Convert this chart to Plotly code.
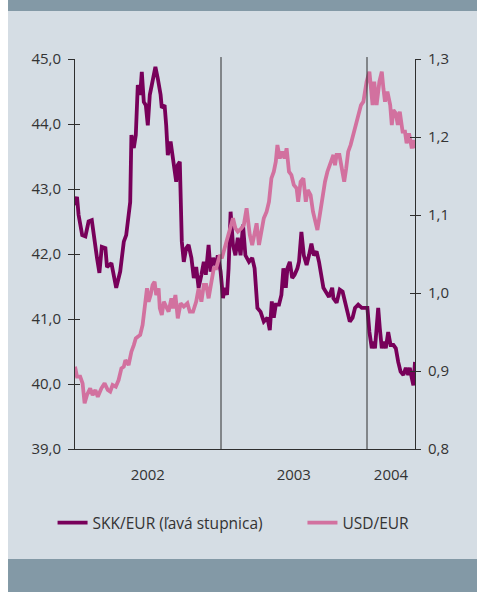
import plotly.graph_objects as go

# ---------------- data ----------------
skk_dates = [
    "2002-01-01", "2002-01-06", "2002-01-10", "2002-01-19", "2002-01-27", "2002-02-04", "2002-02-12",
    "2002-02-17", "2002-02-25", "2002-03-03", "2002-03-09", "2002-03-18", "2002-03-22", "2002-04-02",
    "2002-04-08", "2002-04-14", "2002-04-24", "2002-05-03", "2002-05-09", "2002-05-13", "2002-05-19",
    "2002-05-22", "2002-05-28", "2002-06-02", "2002-06-07", "2002-06-13", "2002-06-17", "2002-06-22",
    "2002-06-27", "2002-07-02", "2002-07-07", "2002-07-12", "2002-07-21", "2002-07-27", "2002-08-03",
    "2002-08-06", "2002-08-13", "2002-08-17", "2002-08-21", "2002-08-28", "2002-09-03", "2002-09-11",
    "2002-09-15", "2002-09-20", "2002-09-25", "2002-09-30", "2002-10-06", "2002-10-12", "2002-10-19",
    "2002-10-25", "2002-10-31", "2002-11-06", "2002-11-13", "2002-11-19", "2002-11-24", "2002-12-01",
    "2002-12-06", "2002-12-12", "2002-12-19", "2002-12-24", "2002-12-31", "2003-01-06", "2003-01-10",
    "2003-01-16", "2003-01-20", "2003-01-25", "2003-01-31", "2003-02-06", "2003-02-12", "2003-02-19",
    "2003-02-25", "2003-03-03", "2003-03-12", "2003-03-20", "2003-03-26", "2003-04-02", "2003-04-10",
    "2003-04-18", "2003-04-27", "2003-05-03", "2003-05-08", "2003-05-13", "2003-05-18", "2003-05-26",
    "2003-06-01", "2003-06-06", "2003-06-12", "2003-06-16", "2003-06-22", "2003-06-28", "2003-07-04",
    "2003-07-11", "2003-07-15", "2003-07-21", "2003-07-27", "2003-08-03", "2003-08-09", "2003-08-15",
    "2003-08-21", "2003-08-28", "2003-09-03", "2003-09-09", "2003-09-14", "2003-09-20", "2003-09-28",
    "2003-10-06", "2003-10-09", "2003-10-17", "2003-10-25", "2003-11-01", "2003-11-07", "2003-11-11",
    "2003-11-19", "2003-11-26", "2003-12-02", "2003-12-10", "2003-12-19", "2003-12-27", "2004-01-02",
    "2004-01-07", "2004-01-13", "2004-01-17", "2004-01-21", "2004-01-25", "2004-01-29", "2004-02-02",
    "2004-02-07", "2004-02-12", "2004-02-17", "2004-02-23", "2004-02-29", "2004-03-07", "2004-03-13",
    "2004-03-19", "2004-03-25", "2004-04-01", "2004-04-07", "2004-04-13", "2004-04-17", "2004-04-22",
    "2004-04-26", "2004-04-30",
]
skk_eur = [
    42.75, 42.88, 42.60, 42.29, 42.27, 42.50, 42.52,
    42.25, 41.94, 41.71, 42.11, 42.09, 41.80, 41.86,
    41.68, 41.48, 41.73, 42.19, 42.29, 42.55, 42.80,
    43.83, 43.63, 43.83, 44.60, 44.45, 44.80, 44.34,
    44.29, 43.98, 44.45, 44.60, 44.88, 44.70, 44.45,
    44.25, 44.29, 43.98, 43.52, 43.73, 43.48, 43.11,
    43.37, 43.42, 42.19, 41.88, 42.09, 42.14, 41.94,
    41.63, 41.80, 41.48, 41.68, 41.88, 41.68, 42.14,
    41.73, 41.94, 41.83, 41.98, 41.73, 41.32, 41.48,
    41.37, 41.78, 42.65, 42.14, 41.98, 42.25, 41.98,
    42.45, 41.98, 41.88, 41.94, 41.78, 41.17, 41.11,
    40.96, 41.02, 40.83, 41.27, 41.02, 41.22, 41.22,
    41.37, 41.78, 41.48, 41.78, 41.88, 41.63, 41.68,
    41.78, 41.88, 42.34, 41.98, 41.83, 41.98, 42.16,
    41.98, 42.04, 41.88, 41.68, 41.48, 41.42, 41.34,
    41.48, 41.32, 41.25, 41.45, 41.42, 41.27, 41.11,
    40.96, 41.02, 41.17, 41.22, 41.17, 41.17, 41.17,
    40.80, 40.55, 40.65, 40.55, 40.86, 41.17, 40.86,
    40.55, 40.65, 40.55, 40.80, 40.60, 40.60, 40.55,
    40.34, 40.19, 40.14, 40.25, 40.14, 40.25, 40.09,
    39.98, 40.34,
]

usd_dates = [
    "2002-01-01", "2002-01-06", "2002-01-14", "2002-01-20", "2002-01-25", "2002-01-31", "2002-02-08",
    "2002-02-14", "2002-02-21", "2002-02-27", "2002-03-08", "2002-03-16", "2002-03-24", "2002-03-30",
    "2002-04-05", "2002-04-13", "2002-04-20", "2002-04-27", "2002-05-03", "2002-05-07", "2002-05-15",
    "2002-05-22", "2002-05-28", "2002-06-02", "2002-06-07", "2002-06-13", "2002-06-19", "2002-06-26",
    "2002-06-30", "2002-07-04", "2002-07-09", "2002-07-14", "2002-07-19", "2002-07-23", "2002-07-29",
    "2002-08-01", "2002-08-06", "2002-08-11", "2002-08-17", "2002-08-23", "2002-08-30", "2002-09-03",
    "2002-09-09", "2002-09-15", "2002-09-22", "2002-09-30", "2002-10-09", "2002-10-15", "2002-10-23",
    "2002-10-31", "2002-11-06", "2002-11-13", "2002-11-19", "2002-11-25", "2002-12-01", "2002-12-08",
    "2002-12-14", "2002-12-20", "2002-12-29", "2003-01-03", "2003-01-10", "2003-01-18", "2003-01-25",
    "2003-01-31", "2003-02-06", "2003-02-12", "2003-02-21", "2003-02-27", "2003-03-06", "2003-03-14",
    "2003-03-20", "2003-03-26", "2003-03-31", "2003-04-06", "2003-04-12", "2003-04-18", "2003-04-25",
    "2003-05-01", "2003-05-07", "2003-05-13", "2003-05-18", "2003-05-22", "2003-05-28", "2003-06-03",
    "2003-06-09", "2003-06-14", "2003-06-20", "2003-06-26", "2003-07-02", "2003-07-09", "2003-07-13",
    "2003-07-19", "2003-07-26", "2003-08-01", "2003-08-06", "2003-08-13", "2003-08-19", "2003-08-24",
    "2003-08-30", "2003-09-05", "2003-09-11", "2003-09-18", "2003-09-24", "2003-09-30", "2003-10-05",
    "2003-10-09", "2003-10-13", "2003-10-17", "2003-10-24", "2003-10-28", "2003-11-01", "2003-11-05",
    "2003-11-10", "2003-11-15", "2003-11-21", "2003-11-28", "2003-12-05", "2003-12-10", "2003-12-17",
    "2003-12-23", "2003-12-27", "2003-12-31", "2004-01-07", "2004-01-11", "2004-01-15", "2004-01-19",
    "2004-01-25", "2004-02-01", "2004-02-07", "2004-02-11", "2004-02-15", "2004-02-21", "2004-02-28",
    "2004-03-03", "2004-03-07", "2004-03-13", "2004-03-18", "2004-03-23", "2004-03-30", "2004-04-05",
    "2004-04-09", "2004-04-15", "2004-04-22", "2004-04-27", "2004-04-30",
]
usd_eur = [
    0.9055, 0.8927, 0.8927, 0.8842, 0.8586, 0.8692, 0.8778,
    0.8692, 0.8756, 0.8670, 0.8778, 0.8842, 0.8756, 0.8735,
    0.8820, 0.8799, 0.8884, 0.9034, 0.9055, 0.9140, 0.9077,
    0.9248, 0.9333, 0.9419, 0.9440, 0.9462, 0.9590, 0.9889,
    1.0060, 0.9889, 0.9974, 1.0103, 1.0145, 0.9974, 1.0060,
    0.9804, 0.9718, 0.9889, 0.9825, 0.9760, 0.9932, 0.9804,
    0.9974, 0.9675, 0.9868, 0.9825, 0.9868, 0.9760, 0.9760,
    0.9889, 1.0060, 0.9889, 1.0103, 1.0103, 0.9932, 1.0145,
    1.0317, 1.0317, 1.0487, 1.0445, 1.0573, 1.0744, 1.0872,
    1.0958, 1.0830, 1.0786, 1.0830, 1.0870, 1.1086, 1.0744,
    1.0615, 1.0744, 1.0894, 1.0615, 1.0786, 1.0958, 1.1043,
    1.1170, 1.1470, 1.1555, 1.1683, 1.1897, 1.1727, 1.1812,
    1.1727, 1.1855, 1.1555, 1.1513, 1.1385, 1.1342, 1.1170,
    1.1427, 1.1470, 1.1170, 1.1320, 1.1256, 1.1043, 1.0914,
    1.0808, 1.1000, 1.1214, 1.1427, 1.1555, 1.1640, 1.1727,
    1.1770, 1.1640, 1.1770, 1.1770, 1.1640, 1.1513, 1.1427,
    1.1600, 1.1812, 1.1897, 1.2026, 1.2197, 1.2282, 1.2410,
    1.2453, 1.2580, 1.2709, 1.2837, 1.2624, 1.2410, 1.2709,
    1.2410, 1.2709, 1.2837, 1.2624, 1.2453, 1.2580, 1.2410,
    1.2154, 1.2346, 1.2303, 1.2154, 1.2325, 1.2068, 1.2068,
    1.1919, 1.2047, 1.1855, 1.1962, 1.1855,
]

series_names = ["SKK/EUR (ľavá stupnica)", "USD/EUR"]
year_labels = ["2002", "2003", "2004"]
year_label_dates = ["2002-07-02", "2003-07-02", "2004-03-01"]
year_boundaries = ["2003-01-01", "2004-01-01"]
x_range = ["2002-01-01", "2004-04-30"]
left_range = [39.0, 45.0]
left_ticks = [39.0, 40.0, 41.0, 42.0, 43.0, 44.0, 45.0]
right_range = [0.8, 1.3]
right_ticks = [0.8, 0.9, 1.0, 1.1, 1.2, 1.3]

# ---------------- styles ----------------
C_SKK = "#78005A"
C_USD = "#D2719F"
C_TXT = "#333333"
C_AX = "#2E2E2E"
C_BG = "#D5DDE4"
C_BAR = "#8399A6"
FONT = "Open Sans"

fig = go.Figure()
fig.add_trace(go.Scatter(x=usd_dates, y=usd_eur, name=series_names[1], mode="lines",
                         line=dict(color=C_USD, width=3.8), yaxis="y2", legend="legend2"))
fig.add_trace(go.Scatter(x=skk_dates, y=skk_eur, name=series_names[0], mode="lines",
                         line=dict(color=C_SKK, width=3.8), yaxis="y", legend="legend"))
# empty helper traces so the inner-tick overlay axes are rendered
fig.add_trace(go.Scatter(x=[None], y=[None], yaxis="y3", showlegend=False, hoverinfo="skip"))
fig.add_trace(go.Scatter(x=[None], y=[None], yaxis="y4", showlegend=False, hoverinfo="skip"))

axis_common = dict(showgrid=False, zeroline=False, linecolor=C_AX, linewidth=1,
                   tickcolor=C_AX, tickwidth=1, tickfont=dict(family=FONT, size=15, color=C_TXT))
legend_common = dict(orientation="h", xanchor="left", y=-0.19, yanchor="middle",
                     bgcolor="rgba(0,0,0,0)", font=dict(family=FONT, size=15.5, color=C_TXT))

fig.update_layout(
    width=477, height=592,
    margin=dict(l=75, r=62, t=59, b=143),
    paper_bgcolor="white", plot_bgcolor=C_BG,
    separators=", ",
    font=dict(family=FONT, size=15, color=C_TXT),
    showlegend=True,
    legend=dict(x=-0.066, **legend_common),
    legend2=dict(x=0.669, **legend_common),
    xaxis=dict(type="date", range=x_range, tickmode="array", tickvals=year_label_dates,
               ticktext=year_labels, ticks="", showline=True, ticklabelstandoff=12,
               **axis_common),
    yaxis=dict(range=left_range, tickmode="array", tickvals=left_ticks, tickformat=".1f",
               ticks="outside", ticklen=6, showline=True, ticklabelstandoff=4, **axis_common),
    yaxis2=dict(range=right_range, tickmode="array", tickvals=right_ticks, tickformat=".1f",
                ticks="outside", ticklen=5, showline=True, side="right", overlaying="y",
                anchor="x", ticklabelstandoff=4, **axis_common),
    yaxis3=dict(range=left_range, tickmode="array", tickvals=left_ticks, ticks="inside",
                ticklen=5, showticklabels=False, showline=False, overlaying="y", anchor="x",
                showgrid=False, zeroline=False, tickcolor=C_AX, tickwidth=1),
    yaxis4=dict(range=right_range, tickmode="array", tickvals=right_ticks, ticks="inside",
                ticklen=5, showticklabels=False, showline=False, overlaying="y", side="right",
                anchor="x", showgrid=False, zeroline=False, tickcolor=C_AX, tickwidth=1),
)

# panel background, header / footer bars
fig.add_shape(type="rect", xref="paper", yref="paper", x0=-0.197, x1=1.2, y0=-0.40, y1=1.20,
              fillcolor=C_BG, line_width=0, layer="below")
fig.add_shape(type="rect", xref="paper", yref="paper", x0=-0.197, x1=1.2, y0=1.1231, y1=1.20,
              fillcolor=C_BAR, line_width=0, layer="below")
fig.add_shape(type="rect", xref="paper", yref="paper", x0=-0.197, x1=1.2, y0=-0.40, y1=-0.2821,
              fillcolor=C_BAR, line_width=0, layer="below")

# year separators
for d in year_boundaries:
    fig.add_shape(type="line", xref="x", yref="paper", x0=d, x1=d, y0=0, y1=1.005,
                  line=dict(color=C_AX, width=1), layer="above")

fig.write_html("out.html", config={"displayModeBar": False, "staticPlot": True},
               post_script="document.body.style.margin='0';")
